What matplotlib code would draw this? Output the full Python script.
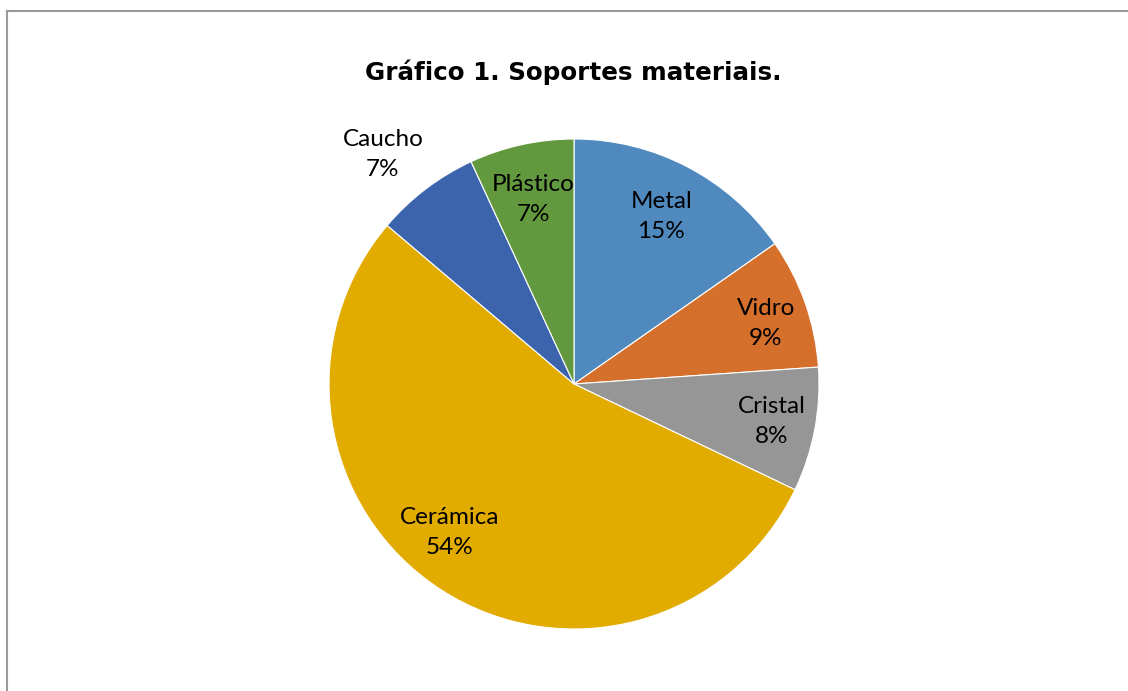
import numpy as np
import matplotlib
matplotlib.use("Agg")
import matplotlib.pyplot as plt
from matplotlib.lines import Line2D

# data
categories = ['Metal', 'Vidro', 'Cristal', 'Cerámica', 'Caucho', 'Plástico']
values = [15.3, 8.6, 8.2, 54.1, 6.9, 6.9]
colors = ['#4F89BD', '#D4702B', '#969696', '#E2AB00', '#3C64AC', '#62993E']
# label placement (distance from centre in radii, angle tweak in degrees)
label_dist = [0.77, 0.82, 0.82, 0.79, 1.22, 0.77]
label_rot = [0, -2, 0, -7, 2.5, 0]

W, H = 1128, 691
fig = plt.figure(figsize=(W / 100, H / 100), dpi=100)
fig.patch.set_facecolor('white')

# chart frame (left and top edges visible, rest cut off)
fig.add_artist(Line2D([7 / W, 7 / W], [0, 1 - 11 / H], color='#9a9a9a', lw=1.5))
fig.add_artist(Line2D([7 / W, 1], [1 - 11 / H, 1 - 11 / H], color='#9a9a9a', lw=1.5))

fig.text(573 / W, 1 - 72 / H, 'Gráfico 1. Soportes materiais.', ha='center', va='center',
         fontsize=17.7, fontweight='bold', family='DejaVu Sans')

cx, cy, r = 574, 384, 245
ax = fig.add_axes([(cx - r) / W, (H - cy - r) / H, 2 * r / W, 2 * r / H])
wedges, _ = ax.pie(values, colors=colors, startangle=90, counterclock=False, radius=1,
                   wedgeprops=dict(edgecolor='white', linewidth=0.8))
ax.set_xlim(-1, 1)
ax.set_ylim(-1, 1)
ax.set_aspect('equal')
ax.axis('off')

for w, name, v, d, rot in zip(wedges, categories, values, label_dist, label_rot):
    ang = np.deg2rad((w.theta1 + w.theta2) / 2 + rot)
    ax.text(d * np.cos(ang), d * np.sin(ang), f'{name}\n{v:.0f}%', ha='center', va='center',
            fontsize=17.5, family='Lato', linespacing=1.55, clip_on=False)

fig.savefig('out.png', dpi=100)
